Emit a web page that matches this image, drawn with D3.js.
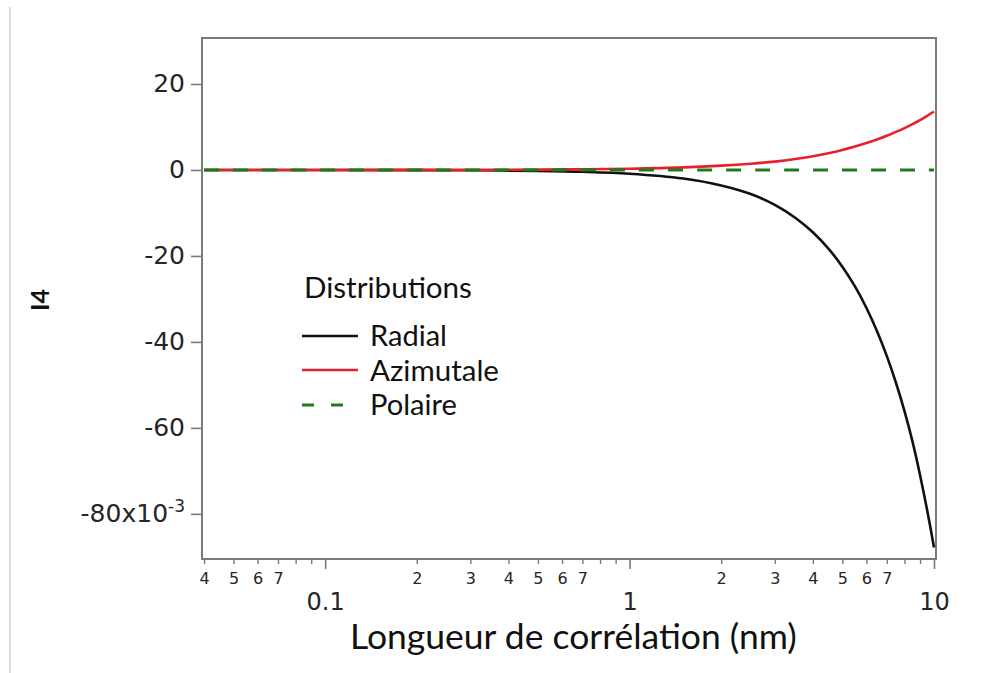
<!DOCTYPE html>
<html><head><meta charset="utf-8">
<script src="https://cdn.jsdelivr.net/npm/d3@7"></script>
<style>html,body{margin:0;padding:0;background:#fff;} svg{display:block;}</style>
</head><body>
<script>
// ---- data ----
const xValues   = [0.04, 0.1, 0.2, 0.3, 0.5, 0.7, 1, 1.5, 2, 2.5, 3, 3.5, 4, 4.5, 5, 5.5, 6, 6.5, 7, 7.5, 8, 8.5, 9, 9.5, 10];
const radial    = [0, -0.01, -0.04, -0.08, -0.22, -0.43, -0.88, -2.0, -3.6, -5.6, -8.1, -11.1, -14.5, -18.3, -22.5, -27.1, -32.1, -37.5, -43.3, -49.5, -56.1, -63.2, -71.0, -79.2, -87.8];
const azimutale = [0, 0.01, 0.02, 0.04, 0.09, 0.16, 0.3, 0.6, 1.0, 1.45, 1.95, 2.55, 3.2, 3.9, 4.65, 5.45, 6.27, 7.11, 7.97, 8.85, 9.75, 10.67, 11.61, 12.6, 13.6];
const polaire   = [0, 0, 0, 0, 0, 0, 0, 0, 0, 0, 0, 0, 0, 0, 0, 0, 0, 0, 0, 0, 0, 0, 0, 0, 0];
const seriesNames = ["Radial", "Azimutale", "Polaire"];
const yTicks = [20, 0, -20, -40, -60, -80];
const xMajorTicks = [0.1, 1, 10];
const xMinorTicks = [0.04,0.05,0.06,0.07,0.08,0.09,0.2,0.3,0.4,0.5,0.6,0.7,0.8,0.9,2,3,4,5,6,7,8,9];
const xMinorLabelled = [0.04,0.05,0.06,0.07,0.2,0.3,0.4,0.5,0.6,0.7,2,3,4,5,6,7];

const W = 990, H = 673;
const svg = d3.select("body").append("svg").attr("width", W).attr("height", H);

const x = d3.scaleLog().domain([0.04, 10]).range([204, 934]);
const y = d3.scaleLinear().domain([-90.5, 30.7]).range([559, 38]);

// faint page border line
svg.append("line").attr("x1", 10).attr("x2", 10).attr("y1", 7).attr("y2", H)
  .attr("stroke", "#d0d0d0").attr("stroke-width", 1.5);

const axisColor = "#7a7a7a";
const numFont = "'DejaVu Sans', Verdana, sans-serif";
const txtFont = "Lato, 'Open Sans', sans-serif";
const numColor = "#262626";

// Y axis
const yAxis = svg.append("g").attr("transform", "translate(202,0)")
  .call(d3.axisLeft(y).tickValues(yTicks).tickSize(11).tickPadding(6).tickFormat(d => d));
yAxis.select(".domain").remove();
yAxis.selectAll(".tick line").attr("stroke", axisColor).attr("stroke-width", 1.6);
yAxis.selectAll(".tick text").attr("font-family", numFont).attr("font-size", 25).attr("fill", numColor);
yAxis.selectAll(".tick").filter(d => d === -80).select("text").each(function() {
  const t = d3.select(this); t.text(null);
  t.append("tspan").text("-80x10");
  t.append("tspan").attr("font-size", 17).attr("dy", "-0.6em").text("-3");
});

// X axis major
const xMaj = svg.append("g").attr("transform", "translate(0,559)")
  .call(d3.axisBottom(x).tickValues(xMajorTicks).tickSize(10).tickPadding(24).tickFormat(d => d));
xMaj.select(".domain").remove();
xMaj.selectAll(".tick line").attr("stroke", axisColor).attr("stroke-width", 1.6);
xMaj.selectAll(".tick text").attr("font-family", numFont).attr("font-size", 24).attr("fill", numColor);

// X axis minor
const xMin = svg.append("g").attr("transform", "translate(0,559)")
  .call(d3.axisBottom(x).tickValues(xMinorTicks).tickSize(5).tickPadding(9)
    .tickFormat(d => xMinorLabelled.includes(d) ? String(Math.round(d / Math.pow(10, Math.floor(Math.log10(d)+1e-9)))) : ""));
xMin.select(".domain").remove();
xMin.selectAll(".tick line").attr("stroke", axisColor).attr("stroke-width", 1.4);
xMin.selectAll(".tick text").attr("font-family", numFont).attr("font-size", 16).attr("fill", numColor);

// frame
svg.append("rect").attr("x", 202).attr("y", 38).attr("width", 734).attr("height", 521)
  .attr("fill", "none").attr("stroke", axisColor).attr("stroke-width", 2);

// lines
const line = d3.line().x(d => x(d[0])).y(d => y(d[1])).curve(d3.curveCatmullRom.alpha(0.5));
const mk = arr => xValues.map((v, i) => [v, arr[i]]);
svg.append("path").datum(mk(radial)).attr("d", line).attr("fill", "none")
  .attr("stroke", "#111").attr("stroke-width", 2.6);
svg.append("path").datum(mk(azimutale)).attr("d", line).attr("fill", "none")
  .attr("stroke", "#e8202a").attr("stroke-width", 2.6);
svg.append("path").datum(mk(polaire)).attr("d", line).attr("fill", "none")
  .attr("stroke", "#1f7a1f").attr("stroke-width", 3).attr("stroke-dasharray", "15,14");

function fit(sel, target) {
  const w = sel.node().getComputedTextLength();
  const fs = parseFloat(sel.attr("font-size"));
  sel.attr("font-size", fs * target / w);
}

// legend
const lg = svg.append("g");
fit(lg.append("text").attr("x", 304).attr("y", 298).attr("font-family", txtFont)
  .attr("font-size", 23).attr("fill", "#111").text("Distributions"), 168);
const legY = [336, 370, 405];
const legColors = ["#111", "#e8202a", "#1f7a1f"];
const legW = [77, 129, 87];
seriesNames.forEach((n, i) => {
  const l = lg.append("line").attr("x1", 302).attr("x2", 358).attr("y1", legY[i]).attr("y2", legY[i])
    .attr("stroke", legColors[i]).attr("stroke-width", i === 2 ? 3 : 2.6);
  if (i === 2) l.attr("stroke-dasharray", "12,17");
  fit(lg.append("text").attr("x", 370).attr("y", legY[i]).attr("dy", "0.36em")
    .attr("font-family", txtFont).attr("font-size", 24).attr("fill", "#111").text(n), legW[i]);
});

// axis titles
fit(svg.append("text").attr("x", 350).attr("y", 649).attr("font-family", txtFont)
  .attr("font-size", 30).attr("fill", "#111").text("Longueur de corrélation (nm)"), 447);
svg.append("text").attr("transform", "translate(40,300) rotate(-90)").attr("text-anchor", "middle")
  .attr("dy", "0.35em")
  .attr("font-family", txtFont).attr("font-size", 25).attr("font-weight", 700).attr("fill", "#111").text("I4");
</script>
</body></html>
